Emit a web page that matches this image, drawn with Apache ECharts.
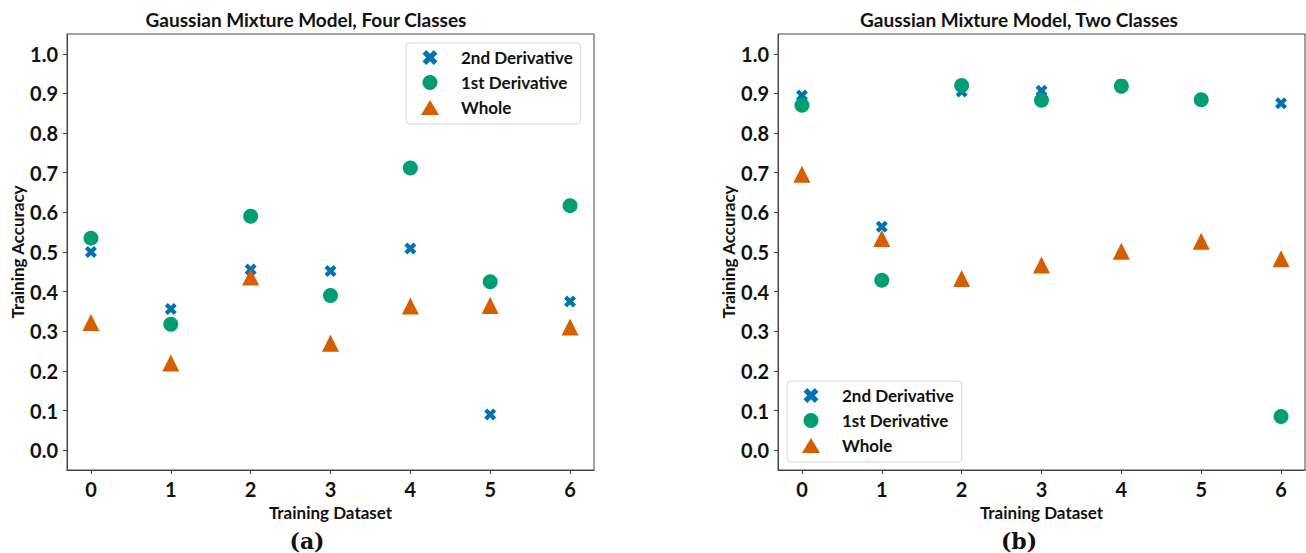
<!DOCTYPE html>
<html>
<head>
<meta charset="utf-8">
<script src="https://cdn.jsdelivr.net/npm/echarts@6/dist/echarts.min.js"></script>
<style>html,body{margin:0;padding:0;background:#fff;}#c{width:1306px;height:553px;}</style>
</head>
<body>
<div id="c"></div>
<script>
// ---- data ----
const datasets = [0, 1, 2, 3, 4, 5, 6];
const xTicks = [0, 1, 2, 3, 4, 5, 6];
const yTicks = [0, 0.1, 0.2, 0.3, 0.4, 0.5, 0.6, 0.7, 0.8, 0.9, 1.0];
const seriesNames = ['2nd Derivative', '1st Derivative', 'Whole'];
const titles = ['Gaussian Mixture Model, Four Classes', 'Gaussian Mixture Model, Two Classes'];
const panelLabels = ['a', 'b'];

const fourDeriv2 = [0.500, 0.356, 0.456, 0.452, 0.509, 0.090, 0.375];
const fourDeriv1 = [0.535, 0.318, 0.590, 0.390, 0.712, 0.425, 0.617];
const fourWhole  = [0.322, 0.220, 0.437, 0.270, 0.364, 0.365, 0.311];

const twoDeriv2 = [0.895, 0.564, 0.905, 0.907, 0.922, 0.885, 0.875];
const twoDeriv1 = [0.870, 0.429, 0.920, 0.883, 0.918, 0.884, 0.085];
const twoWhole  = [0.696, 0.534, 0.433, 0.467, 0.502, 0.527, 0.483];

// ---- styles ----
const FONT = 'Lato';
const colors = ['#0173B2', '#029E73', '#D55E00'];
const XPATH = 'path://M25,0L50,25L75,0L100,25L75,50L100,75L75,100L50,75L25,100L0,75L25,50L0,25Z';
const symbols = [XPATH, 'circle', 'triangle'];
const sizes = [12, 15, 17];

function pairs(vals) { return datasets.map((d, i) => [d, vals[i]]); }

const panels = [
  [fourDeriv2, fourDeriv1, fourWhole],
  [twoDeriv2, twoDeriv1, twoWhole]
];

const gridLefts = [67, 778];
const grids = gridLefts.map(l => ({
  left: l, top: 34, width: 527, height: 436,
  show: true, borderColor: '#444', borderWidth: 1, backgroundColor: 'transparent'
}));

const xAxes = gridLefts.map((l, i) => ({
  type: 'value', gridIndex: i, min: -0.3, max: 6.3,
  name: 'Training Dataset', nameLocation: 'middle', nameGap: 29,
  nameTextStyle: { fontFamily: FONT, fontWeight: 'bold', fontSize: 17, color: '#111' },
  axisLine: { show: true, onZero: false, lineStyle: { color: '#444' } },
  axisTick: { show: true, customValues: xTicks, length: 4, lineStyle: { color: '#444' } },
  axisLabel: { customValues: xTicks, margin: 9, fontFamily: FONT, fontWeight: 'bold', fontSize: 20, color: '#111' },
  splitLine: { show: false }
}));

const yAxes = gridLefts.map((l, i) => ({
  type: 'value', gridIndex: i, min: -0.05, max: 1.05,
  name: 'Training Accuracy', nameLocation: 'middle', nameGap: 41,
  nameTextStyle: { fontFamily: FONT, fontWeight: 'bold', fontSize: 17, color: '#111' },
  axisLine: { show: true, onZero: false, lineStyle: { color: '#444' } },
  axisTick: { show: true, customValues: yTicks, length: 4, lineStyle: { color: '#444' } },
  axisLabel: { customValues: yTicks, margin: 9, fontFamily: FONT, fontWeight: 'bold', fontSize: 20, color: '#111',
    formatter: v => Number(v).toFixed(1) },
  splitLine: { show: false }
}));

const series = [];
panels.forEach((vals, p) => {
  vals.forEach((v, s) => {
    series.push({
      type: 'scatter', name: seriesNames[s], xAxisIndex: p, yAxisIndex: p,
      symbol: symbols[s], symbolSize: sizes[s],
      itemStyle: { color: colors[s], opacity: 1 },
      emphasis: { disabled: true },
      data: pairs(v)
    });
  });
});

const legendBase = {
  orient: 'vertical', data: seriesNames, selectedMode: false,
  itemWidth: 18, itemHeight: 15, itemGap: 8,
  borderColor: '#d8d8d8', borderWidth: 1, borderRadius: 4,
  backgroundColor: '#fff',
  padding: [6, 8, 8, 15],
  textStyle: { fontFamily: FONT, fontWeight: 'bold', fontSize: 17, color: '#111', padding: [0, 0, 0, 17] }
};

const option = {
  animation: false,
  backgroundColor: '#fff',
  title: [
    { text: titles[0], left: 301, top: 5, textAlign: 'center',
      textStyle: { fontFamily: FONT, fontWeight: 'bold', fontSize: 19, color: '#111' } },
    { text: titles[1], left: 1014, top: 5, textAlign: 'center',
      textStyle: { fontFamily: FONT, fontWeight: 'bold', fontSize: 19, color: '#111' } },
    { text: '{p|(}{b|' + panelLabels[0] + '}{p|)}', left: 302, top: 525, textAlign: 'center',
      textStyle: { rich: { p: { fontFamily: 'DejaVu Serif', fontSize: 22, color: '#111' }, b: { fontFamily: 'DejaVu Serif', fontWeight: 'bold', fontSize: 22, color: '#111' } } } },
    { text: '{p|(}{b|' + panelLabels[1] + '}{p|)}', left: 1014, top: 525, textAlign: 'center',
      textStyle: { rich: { p: { fontFamily: 'DejaVu Serif', fontSize: 22, color: '#111' }, b: { fontFamily: 'DejaVu Serif', fontWeight: 'bold', fontSize: 22, color: '#111' } } } }
  ],
  legend: [
    Object.assign({}, legendBase, { left: 406, top: 43 }),
    Object.assign({}, legendBase, { left: 787, top: 381 })
  ],
  grid: grids,
  xAxis: xAxes,
  yAxis: yAxes,
  series: series
};

const chart = echarts.init(document.getElementById('c'), null, { renderer: 'svg' });
chart.setOption(option);
</script>
</body>
</html>
